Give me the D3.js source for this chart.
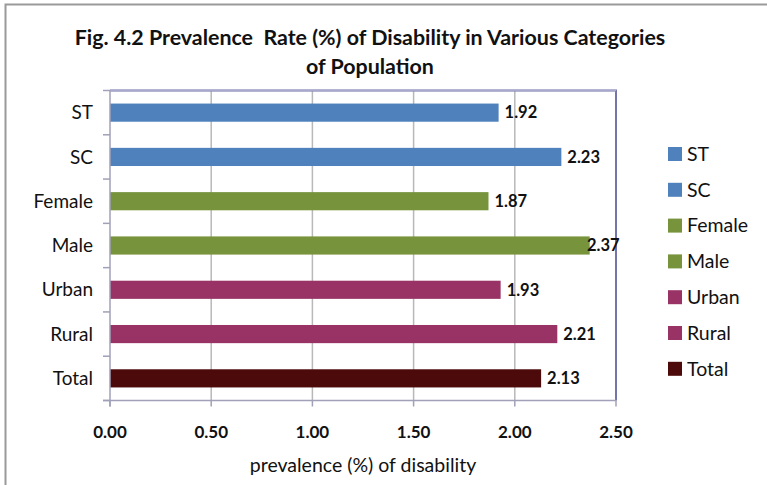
<!DOCTYPE html>
<html><head><meta charset="utf-8">
<script src="https://cdn.jsdelivr.net/npm/d3@7"></script>
<style>body{margin:0;background:#fff}svg{display:block}</style>
</head><body>
<svg id="chart" width="767" height="485"></svg>
<script>
const categories = ["ST","SC","Female","Male","Urban","Rural","Total"];
const values = [1.92,2.23,1.87,2.37,1.93,2.21,2.13];
const colors = ["#4f81bd","#4f81bd","#77933c","#77933c","#993366","#993366","#4d0a0a"];
const xTicks = [0,0.5,1,1.5,2,2.5];
const titleLines = ["Fig. 4.2 Prevalence  Rate (%) of Disability in Various Categories","of Population"];
const xTitle = "prevalence (%) of disability";

const font = "Lato, 'Open Sans', sans-serif";
const svg = d3.select("#chart");
const L = 110, R = 616, T = 90.5, B = 400.5;

// outer frame
svg.append("rect").attr("x",5.5).attr("y",4.5).attr("width",800).attr("height",600)
  .attr("fill","none").attr("stroke","#9a9a9a").attr("stroke-width",2);

const x = d3.scaleLinear().domain([0,2.5]).range([L,R]);
const y = d3.scaleBand().domain(categories).range([T,B]).paddingInner(0.59).paddingOuter(0.295);
const yb = d3.scaleBand().domain(categories).range([T,B]);

// gridlines
svg.append("g").selectAll("line").data(xTicks.slice(1)).join("line")
  .attr("x1",d=>x(d)).attr("x2",d=>x(d)).attr("y1",T).attr("y2",B)
  .attr("stroke","#b8b8b8").attr("stroke-width",1.5);

// bars
svg.append("g").selectAll("rect").data(categories).join("rect")
  .attr("x",x(0)).attr("y",d=>y(d)).attr("height",y.bandwidth())
  .attr("width",(d,i)=>x(values[i])-x(0)).attr("fill",(d,i)=>colors[i]);

// plot border (top/right)
svg.append("path").attr("d",`M${L},${T}H${R}V${B}`).attr("fill","none")
  .attr("stroke","#7575ad").attr("stroke-width",2);
svg.append("line").attr("x1",L).attr("x2",R).attr("y1",T).attr("y2",T)
  .attr("stroke","#a8a8cc").attr("stroke-width",1.5);

// y axis
const yAxis = svg.append("g");
yAxis.append("line").attr("x1",L).attr("x2",L).attr("y1",T).attr("y2",B+6)
  .attr("stroke","#a0a0b8").attr("stroke-width",1.5);
yAxis.selectAll(".tk").data(categories.concat(["_end"])).join("line")
  .attr("x1",L-7).attr("x2",L).attr("y1",(d,i)=>T+i*yb.step()).attr("y2",(d,i)=>T+i*yb.step())
  .attr("stroke","#a0a0b8").attr("stroke-width",1.5);
yAxis.selectAll("text").data(categories).join("text")
  .attr("x",93).attr("y",d=>yb(d)+yb.bandwidth()/2).attr("dy","0.35em")
  .attr("text-anchor","end").attr("font-family",font).attr("font-size",19).attr("fill","#111")
  .text(d=>d);

// x axis
const xAxis = svg.append("g");
xAxis.append("line").attr("x1",L-7).attr("x2",R).attr("y1",B).attr("y2",B)
  .attr("stroke","#a0a0b8").attr("stroke-width",1.5);
xAxis.selectAll(".tk").data(xTicks).join("line")
  .attr("x1",d=>x(d)).attr("x2",d=>x(d)).attr("y1",B).attr("y2",B+6)
  .attr("stroke","#a0a0b8").attr("stroke-width",1.5);
xAxis.selectAll("text").data(xTicks).join("text")
  .attr("x",d=>x(d)).attr("y",438).attr("text-anchor","middle")
  .attr("font-family",font).attr("font-size",17).attr("font-weight","bold").attr("fill","#111")
  .text(d=>d3.format(".2f")(d));
svg.append("text").attr("x",363).attr("y",472).attr("text-anchor","middle")
  .attr("font-family",font).attr("font-size",19.5).attr("fill","#111").text(xTitle);

// value labels
svg.append("g").selectAll("text").data(categories).join("text")
  .attr("x",(d,i)=>Math.min(x(values[i])+6, 587))
  .attr("y",d=>y(d)+y.bandwidth()/2).attr("dy","0.35em")
  .attr("font-family",font).attr("font-size",16.5).attr("font-weight","bold").attr("fill","#111")
  .text((d,i)=>d3.format(".2f")(values[i]));

// title
svg.append("g").selectAll("text").data(titleLines).join("text")
  .attr("x",370).attr("y",(d,i)=>45+i*29).attr("text-anchor","middle")
  .attr("font-family",font).attr("font-size",21.4).attr("font-weight","bold").attr("fill","#111")
  .attr("xml:space","preserve").style("white-space","pre")
  .text(d=>d);

// legend
const lg = svg.append("g").selectAll("g").data(categories).join("g")
  .attr("transform",(d,i)=>`translate(668,${154+i*35.8})`);
lg.append("rect").attr("x",0).attr("y",-7).attr("width",14).attr("height",14).attr("fill",(d,i)=>colors[i]);
lg.append("text").attr("x",19).attr("y",0).attr("dy","0.35em")
  .attr("font-family",font).attr("font-size",19.5).attr("fill","#111").text(d=>d);
</script>
</body></html>
